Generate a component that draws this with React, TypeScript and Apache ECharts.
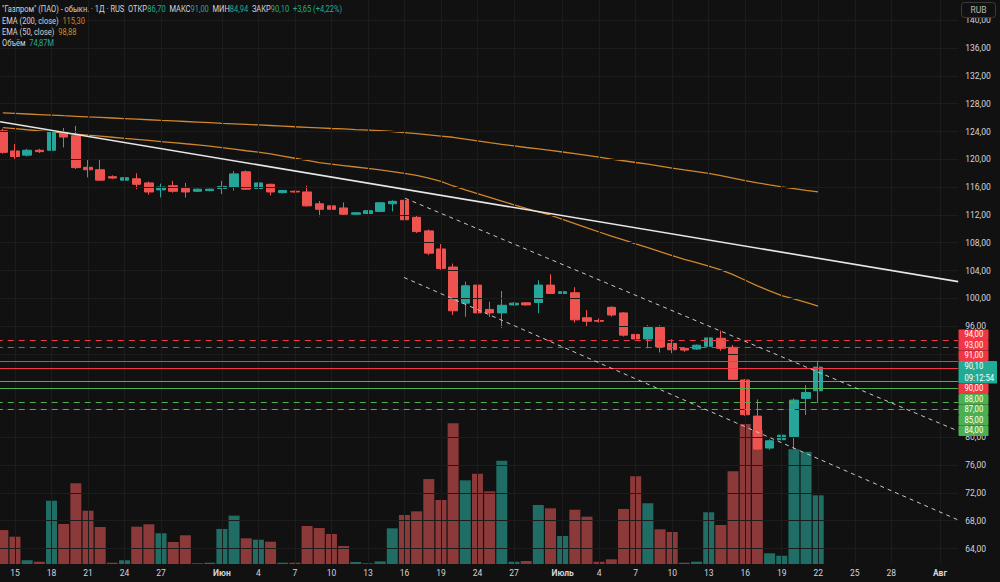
import { useEffect, useRef } from "react";
import * as echarts from "echarts";

// Daily bars of GAZP, May 14 – July 22 (weekend sessions included).
// Bar k sits at x index firstBar + k.
const firstBar = -1;

const opens = [
  124.1, 121.2, 120.6, 121.3, 121.3, 123.9, 123.4, 118.85, 118.5, 117.5, 117.0, 117.2, 116.6, 115.6, 116.2, 115.8, 115.4,
  115.5, 115.8, 116.0, 118.2, 115.8, 116.4, 115.2, 115.4, 115.3, 113.6, 113.3, 113.0, 112.1, 112.2, 112.5, 113.6, 114.1,
  111.65, 109.7, 107.1, 104.5, 99.3, 101.9, 98.4, 97.9, 99.05, 99.35, 99.4, 101.9, 100.7, 100.8, 97.2, 96.8, 98.7, 97.9,
  94.8, 94.15, 95.8, 93.5, 92.8, 92.7, 93.1, 94.25, 92.95, 88.25, 83.05, 78.45, 79.65, 80.1, 85.6, 86.7,
];
const closes = [
  121.0, 120.4, 121.3, 121.1, 123.9, 123.2, 118.8, 118.5, 117.0, 117.3, 117.35, 116.4, 115.3, 116.0, 115.4, 115.3, 115.7,
  115.7, 116.1, 117.9, 115.7, 116.6, 115.3, 115.5, 115.3, 113.3, 112.8, 112.8, 112.1, 112.3, 112.6, 113.75, 113.95, 111.3,
  109.6, 106.5, 104.3, 98.2, 101.8, 97.9, 97.9, 99.0, 99.3, 99.05, 101.9, 100.7, 100.95, 96.9, 96.7, 96.7, 97.6, 94.7,
  94.15, 95.8, 93.0, 92.6, 92.55, 93.25, 94.3, 92.8, 88.35, 83.25, 78.3, 79.5, 80.3, 85.35, 86.45, 90.1,
];
const highs = [
  124.4, 122.2, 121.5, 121.5, 124.2, 124.5, 124.8, 119.9, 120.0, 117.7, 117.5, 118.0, 116.8, 116.5, 116.9, 116.6, 115.8,
  115.8, 116.9, 118.3, 118.4, 117.0, 116.5, 115.6, 115.5, 116.2, 114.0, 113.75, 113.8, 112.4, 112.7, 113.8, 114.1, 114.4,
  112.0, 109.9, 107.8, 105.0, 102.4, 102.4, 99.5, 101.05, 99.45, 99.45, 102.6, 103.45, 102.5, 101.6, 98.3, 97.1, 98.85,
  98.0, 94.95, 96.15, 96.15, 94.1, 92.9, 93.35, 95.5, 95.35, 93.3, 88.4, 85.45, 79.7, 80.6, 85.6, 87.5, 91.0,
];
const lows = [
  120.8, 120.0, 120.4, 120.9, 120.0, 121.7, 118.6, 117.4, 116.9, 117.2, 116.9, 115.7, 114.9, 114.5, 115.2, 114.5, 115.3,
  115.4, 115.0, 115.5, 115.6, 115.6, 114.8, 115.1, 115.2, 113.2, 111.8, 111.75, 112.0, 112.0, 112.1, 112.4, 112.5, 110.9,
  109.4, 106.2, 104.1, 97.6, 97.35, 97.1, 97.3, 95.7, 98.95, 98.95, 97.85, 100.6, 99.85, 96.5, 96.0, 96.5, 97.35, 94.5,
  91.4, 92.8, 92.2, 92.1, 92.3, 92.6, 91.7, 92.45, 88.25, 83.1, 78.2, 78.2, 79.4, 78.3, 83.2, 84.94,
];
// Volume, millions of shares
const volumes = [
  37.0, 29.8, 4.0, 2.5, 69.0, 43.6, 88.0, 58.1, 40.3, 1.4, 4.0, 40.7, 43.3, 33.5, 24.0, 31.3, 0.8, 1.4, 38.2, 52.7, 28.0,
  26.5, 24.3, 1.4, 1.4, 41.4, 39.2, 32.7, 19.6, 2.2, 0.8, 2.9, 38.9, 53.4, 57.4, 92.6, 69.8, 153.3, 91.2, 98.4, 79.2,
  112.6, 2.5, 3.3, 64.3, 60.7, 30.5, 59.2, 51.6, 2.5, 5.1, 60.0, 95.6, 66.2, 37.8, 34.9, 1.4, 2.5, 56.4, 42.5, 101.0,
  152.6, 146.0, 11.7, 9.0, 125.0, 122.4, 74.87,
];
const ema200 = [
  126.68, 126.6, 126.52, 126.44, 126.36, 126.27, 126.19, 126.1, 126.02, 125.94, 125.86, 125.78, 125.69, 125.6, 125.52,
  125.44, 125.36, 125.27, 125.18, 125.1, 125.02, 124.94, 124.86, 124.77, 124.68, 124.6, 124.52, 124.43, 124.37, 124.28,
  124.2, 124.12, 124.0, 123.84, 123.68, 123.51, 123.34, 123.17, 122.91, 122.65, 122.4, 122.16, 121.93, 121.7, 121.49,
  121.28, 121.05, 120.82, 120.57, 120.3, 120.04, 119.79, 119.54, 119.3, 119.02, 118.74, 118.47, 118.22, 117.97, 117.65,
  117.3, 116.94, 116.62, 116.32, 116.03, 115.79, 115.54, 115.3,
];
const ema50 = [
  124.56, 124.41, 124.25, 124.1, 123.94, 123.78, 123.63, 123.47, 123.32, 123.17, 123.01, 122.86, 122.71, 122.55, 122.4,
  122.24, 122.09, 121.89, 121.67, 121.45, 121.23, 121.02, 120.77, 120.46, 120.15, 119.84, 119.53, 119.31, 119.1, 118.89,
  118.68, 118.48, 118.24, 117.96, 117.68, 117.28, 116.82, 116.16, 115.6, 115.05, 114.51, 113.98, 113.44, 112.93, 112.44,
  111.95, 111.36, 110.75, 110.14, 109.54, 108.94, 108.39, 107.84, 107.3, 106.72, 106.14, 105.6, 105.12, 104.64, 104.1,
  103.4, 102.6, 101.8, 101.08, 100.4, 99.91, 99.42, 98.88,
];

// Time-scale labels (bar index → text)
const tickBars = [0, 3, 6, 9, 12, 17, 20, 23, 26, 29, 32, 35, 38, 41, 45, 48, 51, 54, 57, 60, 63, 66, 69, 72, 76];
const tickTexts = ["15", "18", "21", "24", "27", "Июн", "4", "7", "10", "13", "16", "19", "24", "27", "Июль", "4", "7", "10", "13", "16", "19", "22", "25", "28", "Авг"];
const monthNames = ["Июн", "Июль", "Авг"];

// Drawn lines: [bar index, price] anchors
const resistanceLine = [[-1.23, 125.4], [77.5, 102.4]];
const channelUpper = [[32.05, 114.4], [77.5, 80.9]];
const channelLower = [[31.96, 103.0], [77.5, 68.1]];

// Horizontal levels
const redSolid = [91, 90];
const redDashed = [94, 93];
const greenSolid = [88, 87];
const greenDashed = [85, 84];

const sessionTimer = "09:12:54";

const BG = "#111111";
const GRID = "#1c1c1c";
const TEXT = "#d1d4dc";
const UP = "#26a69a";
const DOWN = "#ef5350";
const VOL_UP = "#1f6d65";
const VOL_DOWN = "#8b3a39";
const EMA_COLOR = "#d0862a";
const LVL_RED = "#f23645";
const LVL_GREEN = "#4caf50";
const TAG_TEAL = "#22ab94";
const FONT = "Roboto, 'Noto Sans', sans-serif";

const fmt = (v: number) => v.toFixed(2).replace(".", ",");

function buildOption() {
  const n = opens.length;
  const idx = (k: number) => firstBar + k;
  const candleData = opens.map((o, k) => [idx(k), o, closes[k], lows[k], highs[k]]);
  const volumeData = volumes.map((v, k) => ({
    value: [idx(k), v],
    itemStyle: { color: closes[k] >= opens[k] ? VOL_UP : VOL_DOWN },
  }));
  const emaLong = ema200.map((v, k) => [idx(k), v]);
  const emaShort = ema50.map((v, k) => [idx(k), v]);

  const last = n - 1;
  const change = closes[last] - closes[last - 1];
  const changePct = (change / closes[last - 1]) * 100;

  const xMin = -1.5;
  const xMax = 77.5;
  const gridLeft = -3.26;
  const gridRight = 41.8;

  const priceTicks: number[] = [];
  for (let v = 64; v <= 140; v += 4) priceTicks.push(v);

  const allLevels = [...redSolid, ...redDashed, ...greenSolid, ...greenDashed];
  const tagTop = Math.max(...allLevels);
  const tagBottom = Math.min(...allLevels);

  const hLine = (v: number, color: string, dashed: boolean) => ({
    yAxis: v,
    lineStyle: { color, width: 1, type: dashed ? [6, 5] : "solid" },
  });
  const segment = (pts: number[][], color: string, width: number, dashed: boolean) => [
    { coord: pts[0], lineStyle: { color, width, type: dashed ? [4, 4] : "solid" } },
    { coord: pts[1] },
  ];

  // Price tags stacked on the price scale
  const tags: { value: number; lines: string[]; color: string; wide?: boolean }[] = [
    ...redDashed.map((v) => ({ value: v, lines: [fmt(v)], color: LVL_RED })),
    ...redSolid.map((v) => ({ value: v, lines: [fmt(v)], color: LVL_RED })),
    ...greenSolid.map((v) => ({ value: v, lines: [fmt(v)], color: LVL_GREEN })),
    ...greenDashed.map((v) => ({ value: v, lines: [fmt(v)], color: LVL_GREEN })),
    { value: closes[last], lines: [fmt(closes[last]), sessionTimer], color: TAG_TEAL, wide: true },
  ].sort((a, b) => b.value - a.value);

  const rowH = 10.5;
  let top = 329.5;
  const tagGraphics: any[] = [];
  tags.forEach((t) => {
    const h = rowH * t.lines.length + (t.lines.length > 1 ? 1.5 : 0);
    tagGraphics.push({
      type: "rect",
      z: 100,
      shape: { x: 958.5, y: top, width: t.wide ? 38.5 : 30, height: h, r: 1 },
      style: { fill: t.color },
    });
    t.lines.forEach((line, j) => {
      tagGraphics.push({
        type: "text",
        z: 101,
        x: 964.5,
        y: top + rowH / 2 + j * (rowH + 1) + (t.lines.length > 1 ? 0.5 : 0),
        scaleX: 0.9,
        style: { text: line, fill: "#ffffff", fontSize: 8.5, fontFamily: FONT, verticalAlign: "middle", align: "left" },
      });
    });
    top += h;
  });

  const legendRich = {
    t: { fill: TEXT, fontSize: 9.5, fontFamily: FONT },
    v: { fill: TAG_TEAL, fontSize: 9.5, fontFamily: FONT },
    o: { fill: EMA_COLOR, fontSize: 9.5, fontFamily: FONT },
  };
  const sign = change >= 0 ? "+" : "";
  const legendLines = [
    `{t|"Газпром" (ПАО) - обыкн. · 1Д · RUS  ОТКР}{v|${fmt(opens[last])}}{t|  МАКС}{v|${fmt(highs[last])}}{t|  МИН}{v|${fmt(lows[last])}}{t|  ЗАКР}{v|${fmt(closes[last])}}{v|  ${sign}${fmt(change)} (${sign}${fmt(changePct)}%)}`,
    `{t|EMA (200, close)}{o|  ${fmt(ema200[last])}}`,
    `{t|EMA (50, close)}{o|  ${fmt(ema50[last])}}`,
    `{t|Объём}{v|  ${fmt(volumes[last])}M}`,
  ];
  const legendGraphics = legendLines.map((text, k) => ({
    type: "text",
    z: 100,
    x: 2,
    y: 9 + k * 11.3,
    scaleX: 0.79,
    style: { text, rich: legendRich, fill: TEXT, fontSize: 9.5, fontFamily: FONT, verticalAlign: "middle" },
  }));

  return {
    animation: false,
    backgroundColor: BG,
    grid: [
      { left: gridLeft, right: gridRight, top: -7.5, bottom: 5.7, containLabel: false, outerBoundsMode: "none" },
      { left: gridLeft, right: gridRight, top: 417.2, bottom: 18, containLabel: false, outerBoundsMode: "none" },
    ],
    xAxis: [
      { type: "value", gridIndex: 0, min: xMin, max: xMax, show: false },
      {
        type: "value",
        gridIndex: 1,
        min: xMin,
        max: xMax,
        interval: 0.5,
        axisLine: { show: false },
        axisTick: { show: false },
        splitLine: { show: false },
        axisLabel: {
          margin: 4,
          color: TEXT,
          fontSize: 8.5,
          fontFamily: FONT,
          hideOverlap: false,
          showMinLabel: true,
          showMaxLabel: true,
          formatter: (v: number) => {
            const k = tickBars.findIndex((b) => Math.abs(b - v) < 1e-6);
            if (k < 0) return "";
            const t = tickTexts[k];
            return monthNames.includes(t) ? `{m|${t}}` : t;
          },
          rich: { m: { fontWeight: "bold", color: TEXT, fontSize: 8.5, fontFamily: FONT } },
        },
      },
    ],
    yAxis: [
      {
        type: "value",
        gridIndex: 0,
        position: "right",
        min: 60,
        max: 144,
        interval: 4,
        axisLine: { show: false },
        axisTick: { show: false },
        splitLine: { show: false },
        axisLabel: {
          margin: 7,
          color: TEXT,
          fontSize: 8.5,
          fontFamily: FONT,
          hideOverlap: false,
          // ticks hidden under the price tags are left out
          formatter: (v: number) => (v < 62 || v > 142 || (v >= tagBottom && v <= tagTop) ? "" : fmt(v)),
        },
      },
      { type: "value", gridIndex: 1, min: 0, max: 160, show: false },
    ],
    series: [
      {
        name: "grid",
        type: "line",
        xAxisIndex: 0,
        yAxisIndex: 0,
        data: [],
        z: 0,
        silent: true,
        markLine: {
          silent: true,
          symbol: ["none", "none"],
          label: { show: false },
          lineStyle: { color: GRID, width: 1, type: "solid" },
          data: [
            ...priceTicks.map((v) => ({ yAxis: v })),
            ...tickBars.map((b) => [{ coord: [b, 61.8] }, { coord: [b, 144] }]),
          ],
        },
      },
      {
        name: "Объём",
        type: "bar",
        xAxisIndex: 1,
        yAxisIndex: 1,
        barWidth: 11,
        data: volumeData,
        z: 1,
        silent: true,
      },
      {
        name: "EMA 200",
        type: "line",
        xAxisIndex: 0,
        yAxisIndex: 0,
        data: emaLong,
        showSymbol: false,
        symbol: "none",
        lineStyle: { color: EMA_COLOR, width: 1.3 },
        z: 2,
        silent: true,
      },
      {
        name: "EMA 50",
        type: "line",
        xAxisIndex: 0,
        yAxisIndex: 0,
        data: emaShort,
        showSymbol: false,
        symbol: "none",
        lineStyle: { color: EMA_COLOR, width: 1.3 },
        z: 2,
        silent: true,
      },
      {
        name: "ГАЗП",
        type: "candlestick",
        xAxisIndex: 0,
        yAxisIndex: 0,
        barWidth: 9,
        data: candleData,
        z: 3,
        silent: true,
        itemStyle: {
          color: UP,
          color0: DOWN,
          borderColor: UP,
          borderColor0: DOWN,
          borderWidth: 1,
        },
        markLine: {
          silent: true,
          symbol: ["none", "none"],
          label: { show: false },
          data: [
            ...redDashed.map((v) => hLine(v, LVL_RED, true)),
            ...redSolid.map((v) => hLine(v, LVL_RED, false)),
            ...greenSolid.map((v) => hLine(v, LVL_GREEN, false)),
            ...greenDashed.map((v) => hLine(v, LVL_GREEN, true)),
            segment(resistanceLine, "#e6e6e6", 1.6, false),
            segment(channelUpper, "#c8c8c8", 1, true),
            segment(channelLower, "#c8c8c8", 1, true),
          ],
        },
      },
    ],
    graphic: [
      ...legendGraphics,
      {
        type: "rect",
        z: 100,
        shape: { x: 961.5, y: 2.5, width: 34, height: 15, r: 3 },
        style: { fill: BG, stroke: "#3a3a3a", lineWidth: 1 },
      },
      {
        type: "text",
        z: 101,
        x: 978.5,
        y: 10,
        style: { text: "RUB", fill: "#b8b8b8", fontSize: 8.5, fontFamily: FONT, align: "center", verticalAlign: "middle" },
      },
      ...tagGraphics,
    ],
  };
}

export default function App() {
  const ref = useRef<HTMLDivElement>(null);
  useEffect(() => {
    if (!ref.current) return;
    const chart = echarts.init(ref.current, null, { renderer: "svg" });
    chart.setOption(buildOption() as any);
    return () => chart.dispose();
  }, []);
  return <div ref={ref} style={{ position: "fixed", left: 0, top: 0, width: 1000, height: 582 }} />;
}
